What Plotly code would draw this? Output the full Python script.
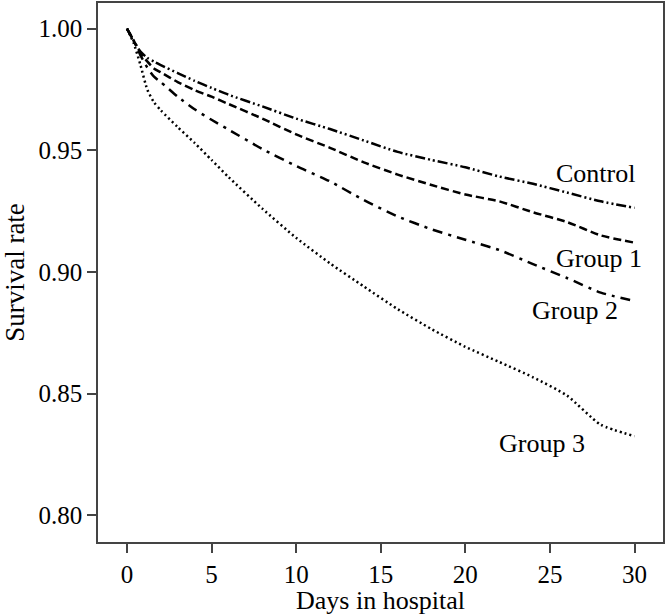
import plotly.graph_objects as go

days = [0, 0.4, 0.8, 1.2, 1.6, 2, 3, 4, 5, 6, 8, 10, 12, 14, 16, 18, 20, 22, 24, 26, 28, 30]
control = [1.0, 0.995, 0.9905, 0.988, 0.9864, 0.985, 0.9817, 0.9785, 0.9756, 0.9728, 0.968, 0.963,
           0.9587, 0.954, 0.9493, 0.946, 0.943, 0.9392, 0.9362, 0.9326, 0.929, 0.9263]
group1 = [1.0, 0.995, 0.990, 0.9865, 0.9836, 0.982, 0.978, 0.9747, 0.972, 0.969, 0.963, 0.9565,
          0.951, 0.945, 0.940, 0.9357, 0.9318, 0.929, 0.9245, 0.9205, 0.915, 0.912]
group2 = [1.0, 0.995, 0.989, 0.984, 0.9802, 0.978, 0.972, 0.9668, 0.9625, 0.9585, 0.9505, 0.9435,
          0.9372, 0.9295, 0.9228, 0.9175, 0.9132, 0.909, 0.9032, 0.8975, 0.8915, 0.888]
group3 = [1.0, 0.994, 0.985, 0.975, 0.9697, 0.9664, 0.9595, 0.953, 0.946, 0.939, 0.926, 0.914,
          0.9035, 0.894, 0.8847, 0.8765, 0.8692, 0.863, 0.8567, 0.8492, 0.8372, 0.8325]

series_names = ["Control", "Group 1", "Group 2", "Group 3"]
label_x = [27.7, 27.9, 26.5, 24.5]
label_y = [0.9405, 0.9057, 0.884, 0.8295]
x_ticks = [0, 5, 10, 15, 20, 25, 30]
y_ticks = [0.80, 0.85, 0.90, 0.95, 1.00]

FONT = "Liberation Serif, Times New Roman, serif"
dashes = ["10px,3px,2px,3px,2px,3px", "8px,4px", "10px,6px,3px,6px", "2px,3px"]

fig = go.Figure()
for name, vals, dash in zip(series_names, [control, group1, group2, group3], dashes):
    fig.add_trace(go.Scatter(x=days, y=vals, mode="lines", name=name,
                             line=dict(color="black", width=2.5, dash=dash, shape="spline", smoothing=0.6)))

for name, lx, ly in zip(series_names, label_x, label_y):
    fig.add_annotation(x=lx, y=ly, text=name, showarrow=False,
                       font=dict(family=FONT, size=26, color="black"))

axis_common = dict(showgrid=False, zeroline=False, showline=True, linecolor="#444", linewidth=1.5,
                   mirror=True, ticks="outside", ticklen=9, tickwidth=1.5, tickcolor="#444",
                   tickfont=dict(family=FONT, size=25, color="black"))

fig.update_layout(
    width=666, height=615,
    margin=dict(l=98, r=2, t=1, b=73),
    paper_bgcolor="white", plot_bgcolor="white",
    showlegend=False,
    xaxis=dict(range=[-1.71, 31.68], tickvals=x_ticks, ticktext=[str(t) for t in x_ticks],
               title=dict(text="Days in hospital", font=dict(family=FONT, size=26, color="black"), standoff=2),
               **axis_common),
    yaxis=dict(range=[0.789, 1.0105], tickvals=y_ticks, ticktext=[f"{t:.2f}" for t in y_ticks],
               title=dict(text="Survival rate", font=dict(family=FONT, size=27, color="black"), standoff=10),
               **axis_common),
)

fig.write_html("out.html", config={"displayModeBar": False},
               post_script="document.body.style.margin='0px';")
